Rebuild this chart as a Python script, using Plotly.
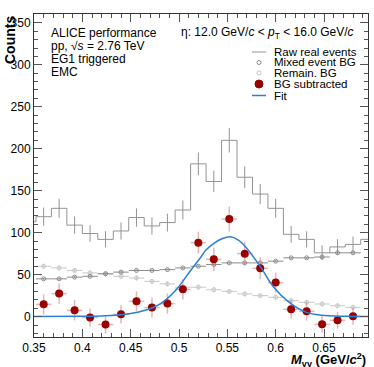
import plotly.graph_objects as go

# --- data ---
raw_x = [0.344, 0.360, 0.376, 0.392, 0.408, 0.424, 0.440, 0.456, 0.472, 0.488, 0.504, 0.520,
         0.536, 0.552, 0.568, 0.584, 0.600, 0.616, 0.632, 0.648, 0.664, 0.680, 0.696]
raw_y = [113, 119, 129, 109, 99, 92, 102, 118, 108, 112, 127, 182,
         161, 210, 166, 146, 129, 98, 92, 76, 83, 86, 92]
raw_err = [10.6, 10.9, 11.4, 10.4, 9.9, 9.6, 10.1, 10.9, 10.4, 10.6, 11.3, 13.5,
           12.7, 14.5, 12.9, 12.1, 11.4, 9.9, 9.6, 8.7, 9.1, 9.3, 9.6]

bin_x = [0.360, 0.376, 0.392, 0.408, 0.424, 0.440, 0.456, 0.472, 0.488, 0.504, 0.520,
         0.536, 0.552, 0.568, 0.584, 0.600, 0.616, 0.632, 0.648, 0.664, 0.680]
half_bin = [0.008] * len(bin_x)
mixed_bg = [45, 45, 47, 48, 51, 53, 55, 55, 56, 58, 60, 62, 64, 64, 64, 66, 70, 70, 71, 76, 76]
mixed_err = [1] * len(bin_x)
remain_bg = [60, 58, 55, 52, 51, 48, 46, 42, 39, 35, 35, 32, 30, 27, 25, 23, 19, 17, 15, 13, 11]
remain_err = [3] * len(bin_x)
bg_sub = [14.6, 27.4, 7.5, -1.2, -9.5, 2.7, 18.2, 10.7, 15.5, 32.5, 88.1,
          68.2, 116.2, 75.0, 57.5, 40.5, 8.7, 6.3, -9.2, -4.4, 0.4]
bg_sub_err = [12, 12, 12, 11, 11, 11, 12, 12, 12, 12, 13,
              14, 15, 14, 13, 12, 11, 11, 10, 10, 10]

fit_x = [0.35, 0.40, 0.42, 0.434, 0.45, 0.465, 0.481, 0.4966, 0.512, 0.5227, 0.5276, 0.5365,
         0.545, 0.553, 0.561, 0.569, 0.5845, 0.598, 0.614, 0.632, 0.648, 0.67, 0.6955]
fit_y = [0, 0.3, 0.8, 1.5, 3.6, 7.5, 15.5, 31.3, 55, 71, 79, 87.6,
         93, 95, 91.5, 83, 59, 35, 17, 5, 1.5, 0.3, 0.1]

FONT = "Liberation Sans, Arial, Helvetica, sans-serif"
RAW_C = "#939393"
MIX_C = "#8a8a8a"
REM_C = "#c8c8c8"
SIG_C = "#990000"
SIG_ERR = "rgba(215,120,120,0.55)"
FIT_C = "#2a7fd6"

fig = go.Figure()

fig.add_trace(go.Scatter(x=raw_x, y=raw_y, mode="lines", line=dict(color=RAW_C, width=1, shape="hvh"),
                         error_y=dict(type="data", array=raw_err, color=RAW_C, thickness=1, width=0)))
fig.add_trace(go.Scatter(x=bin_x, y=remain_bg, mode="markers",
                         marker=dict(symbol="circle-open", size=4, color=REM_C, line=dict(width=1)),
                         error_x=dict(type="data", array=half_bin, color=REM_C, thickness=1, width=0),
                         error_y=dict(type="data", array=remain_err, color=REM_C, thickness=1, width=0)))
fig.add_trace(go.Scatter(x=bin_x, y=mixed_bg, mode="markers",
                         marker=dict(symbol="circle-open", size=4, color=MIX_C, line=dict(width=1)),
                         error_x=dict(type="data", array=half_bin, color=MIX_C, thickness=1, width=0),
                         error_y=dict(type="data", array=mixed_err, color=MIX_C, thickness=1, width=0)))
fig.add_trace(go.Scatter(x=bin_x, y=bg_sub, mode="markers",
                         marker=dict(symbol="circle", size=8, color=SIG_C),
                         error_x=dict(type="data", array=half_bin, color=SIG_ERR, thickness=1.5, width=0),
                         error_y=dict(type="data", array=bg_sub_err, color=SIG_ERR, thickness=1.5, width=0)))
fig.add_trace(go.Scatter(x=fit_x, y=fit_y, mode="lines", line=dict(color=FIT_C, width=1.5, shape="spline")))

# plot frame in pixels: x 34..368, y 14..337
L, R, T, B = 34, 368, 14, 337
def px(xp):
    return (xp - L) / (R - L)
def py(yp):
    return (B - yp) / (B - T)

ann = []
for i, t in enumerate(["ALICE performance", "pp, \u221a<i>s</i> = 2.76 TeV", "EG1 triggered", "EMC"]):
    ann.append(dict(x=px(49), y=py(33 + 13 * i), text=t, xanchor="left", yanchor="middle"))
ann.append(dict(x=px(356), y=py(33), xanchor="right", yanchor="middle",
                text="\u03b7: 12.0 GeV/<i>c</i> < <i>p</i><sub>T</sub> < 16.0 GeV/<i>c</i>"))

# manual legend
leg_rows = [52, 62.5, 73, 84, 95.5]
leg_text = ["Raw real events", "Mixed event BG", "Remain. BG", "BG subtracted", "Fit"]
for yy, t in zip(leg_rows, leg_text):
    ann.append(dict(x=px(272), y=py(yy), text=t, xanchor="left", yanchor="middle",
                    font=dict(size=11.5, family=FONT, color="black")))

shapes = [
    dict(type="line", xref="paper", yref="paper", x0=px(252), x1=px(266), y0=py(52), y1=py(52),
         line=dict(color=RAW_C, width=1)),
    dict(type="line", xref="paper", yref="paper", x0=px(252), x1=px(266), y0=py(95.5), y1=py(95.5),
         line=dict(color=FIT_C, width=1.5)),
]
for yy, col, filled, r in [(62.5, MIX_C, False, 2), (73, REM_C, False, 2), (84, SIG_C, True, 4)]:
    shapes.append(dict(type="circle", xref="paper", yref="paper", xsizemode="pixel", ysizemode="pixel",
                       xanchor=px(259), yanchor=py(yy), x0=-r, x1=r, y0=-r, y1=r,
                       line=dict(color=col, width=1), fillcolor=col if filled else "rgba(0,0,0,0)"))

ann.append(dict(x=px(10), y=1.0, text="<b>Counts</b>", textangle=-90,
                xanchor="center", yanchor="top", font=dict(size=14, family=FONT, color="black")))
ann.append(dict(x=1.0, y=py(349), xanchor="right", yanchor="top",
                text="<b><i>M</i><sub>\u03b3\u03b3</sub> (GeV/<i>c</i><sup>2</sup>)</b>",
                font=dict(size=13, family=FONT, color="black")))

for a in ann:
    a["xref"] = "paper"
    a["yref"] = "paper"
    a["showarrow"] = False
    a.setdefault("font", dict(size=12, family=FONT, color="black"))

axis_common = dict(showline=True, linecolor="#333333", linewidth=1, mirror="allticks", ticks="inside",
                   tickcolor="#555555", showgrid=False, zeroline=False,
                   tickfont=dict(size=12, family=FONT, color="black"))

fig.update_layout(
    width=374, height=367,
    margin=dict(l=L, r=374 - R, t=T, b=367 - B),
    paper_bgcolor="white", plot_bgcolor="white",
    showlegend=False,
    annotations=ann, shapes=shapes,
    xaxis=dict(range=[0.35, 0.6955], tickvals=[0.35, 0.4, 0.45, 0.5, 0.55, 0.6, 0.65],
               ticktext=["0.35", "0.4", "0.45", "0.5", "0.55", "0.6", "0.65"], ticklen=8,
               minor=dict(ticks="inside", dtick=0.01, tick0=0.35, ticklen=4, tickcolor="#555555"),
               **axis_common),
    yaxis=dict(range=[-24.3, 360.5], tickvals=[0, 50, 100, 150, 200, 250, 300, 350], ticklen=8,
               minor=dict(ticks="inside", dtick=10, tick0=0, ticklen=4, tickcolor="#555555"),
               **axis_common),
)

fig.write_html("out.html", config={"displayModeBar": False},
               post_script="document.body.style.margin='0';document.body.style.padding='0';")
